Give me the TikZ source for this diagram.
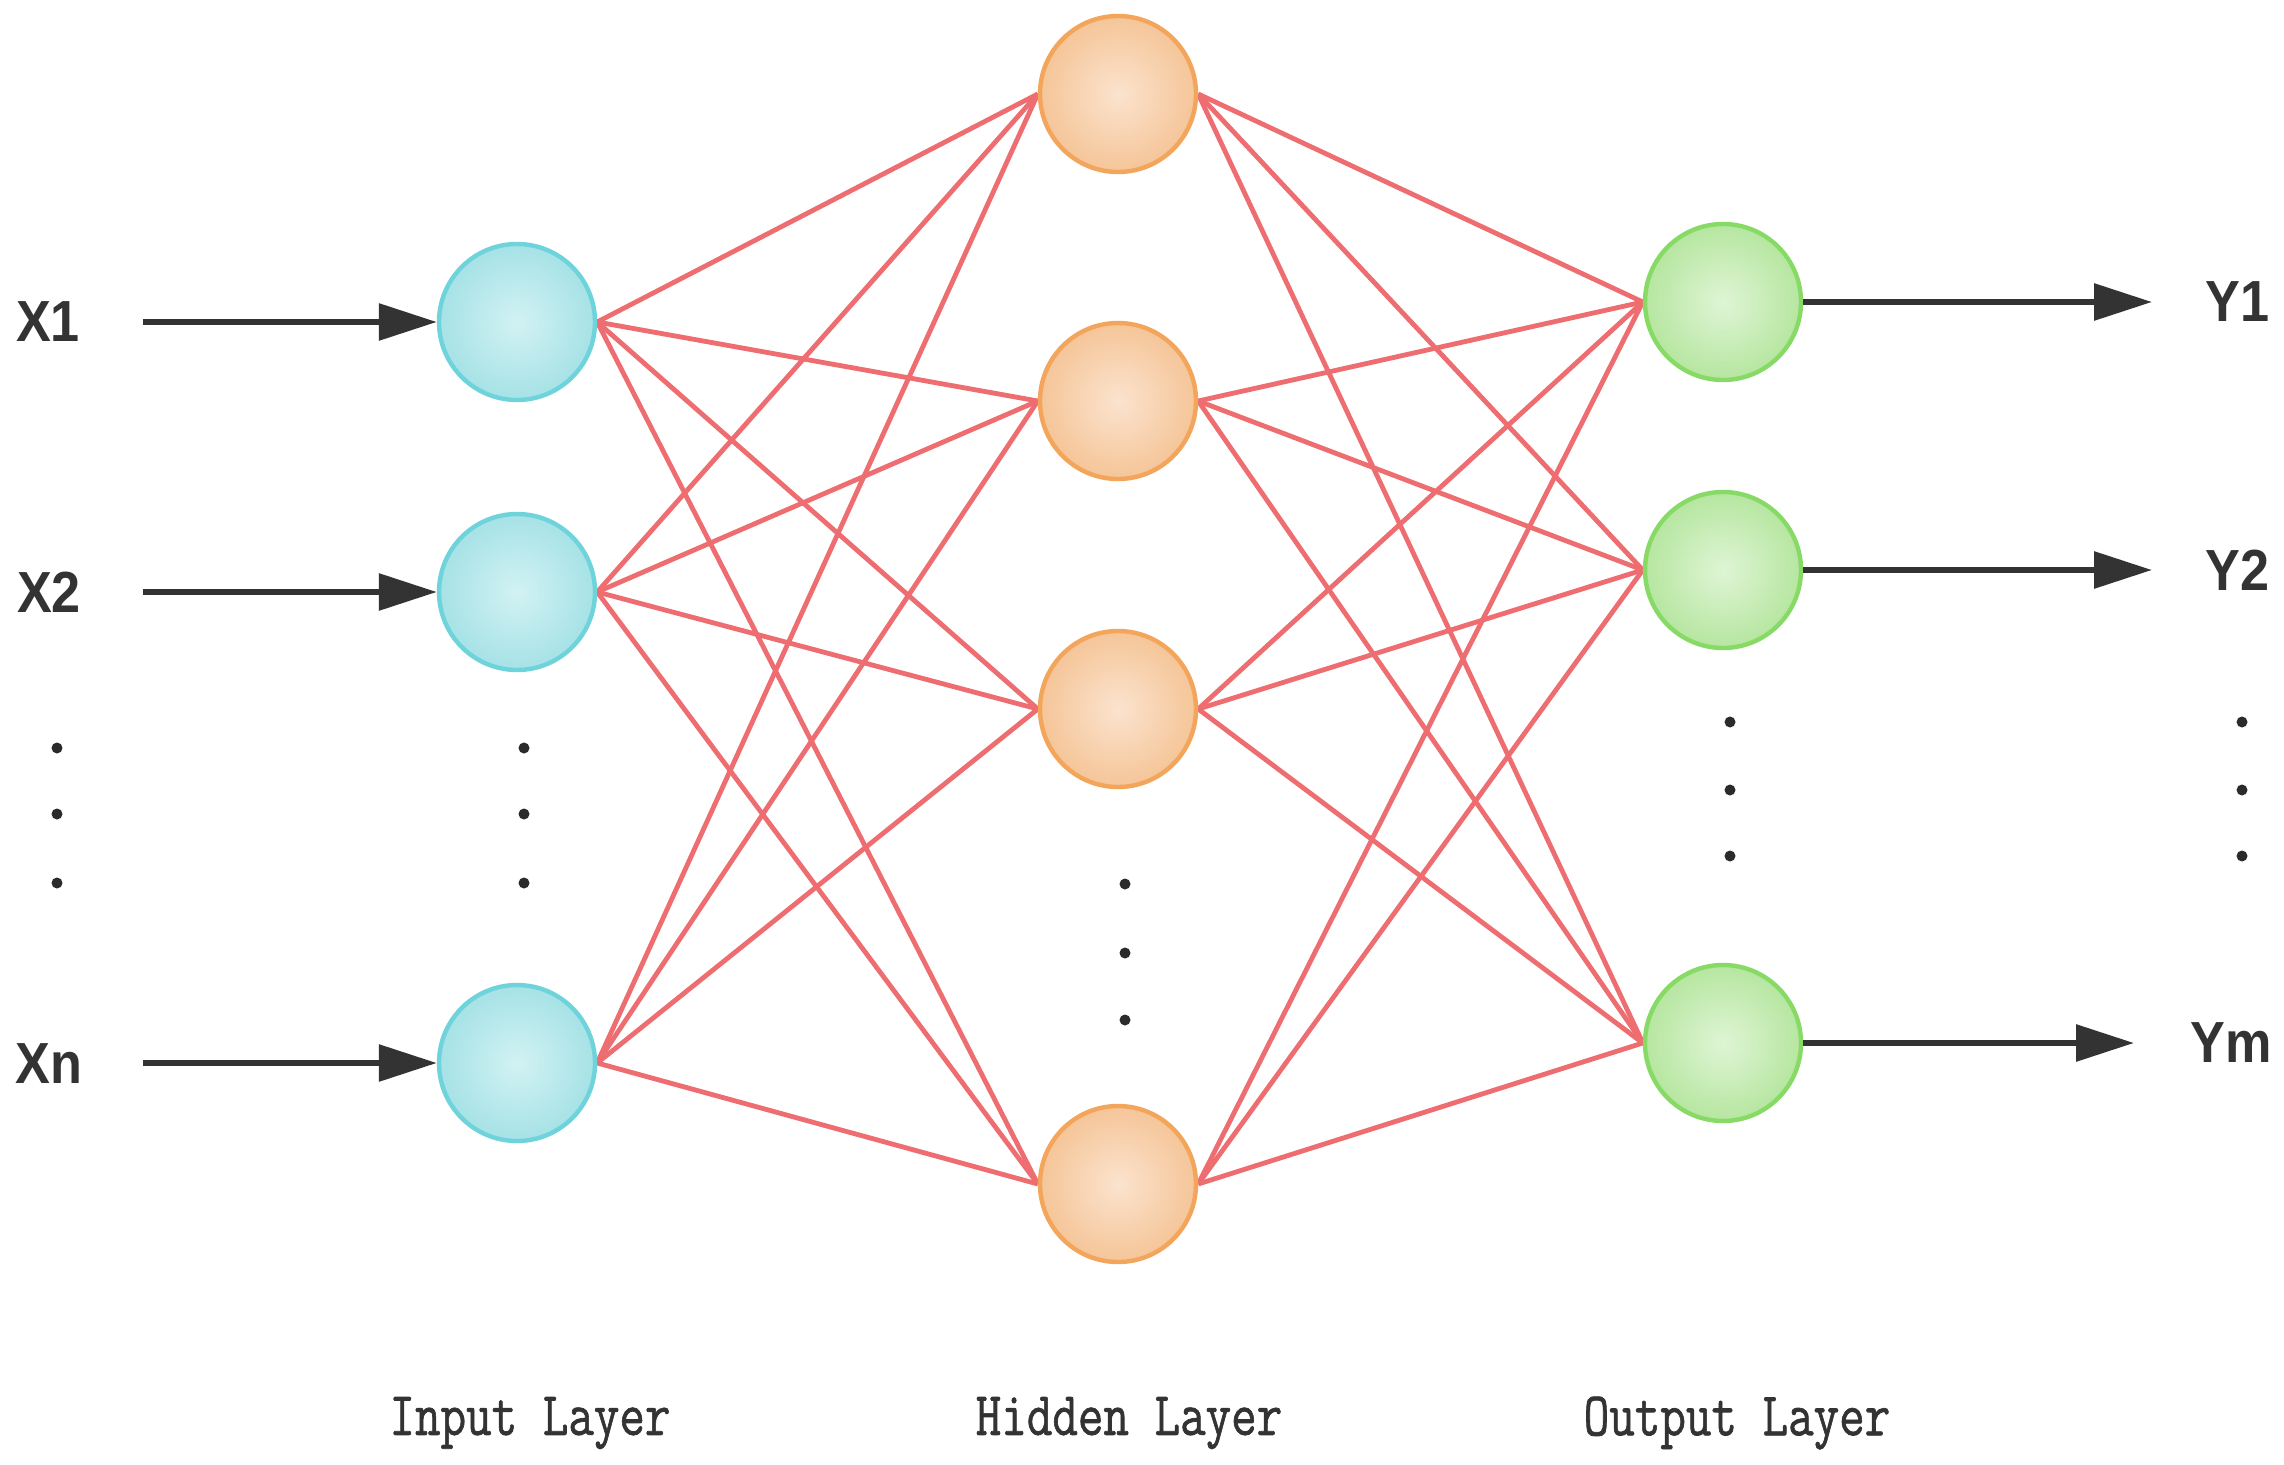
\documentclass[tikz,border=0pt]{standalone}
\usepackage{fontspec}
\usepackage{graphicx}
\setmainfont{Liberation Sans}
\newfontfamily\labmono[FakeBold=1.2]{Latin Modern Mono}
\usetikzlibrary{arrows.meta,backgrounds}
\definecolor{cyanB}{HTML}{6ED3DB}
\definecolor{cyanI}{HTML}{D2F2F3}
\definecolor{cyanO}{HTML}{A6E2E6}
\definecolor{orB}{HTML}{F3A55B}
\definecolor{orI}{HTML}{FBE3CE}
\definecolor{orO}{HTML}{F5C598}
\definecolor{grB}{HTML}{88DA66}
\definecolor{grI}{HTML}{DFF5D5}
\definecolor{grO}{HTML}{B6E6A0}
\definecolor{conn}{HTML}{EE6D70}
\definecolor{ink}{HTML}{333333}
\tikzset{
  neuron/.style={circle,minimum size=78pt,inner sep=0pt,line width=2.2pt},
  inneuron/.style={neuron,draw=cyanB,inner color=cyanI,outer color=cyanO},
  hidneuron/.style={neuron,draw=orB,inner color=orI,outer color=orO},
  outneuron/.style={neuron,draw=grB,inner color=grI,outer color=grO},
  link/.style={draw=conn,line width=2.4pt},
  flow/.style={draw=ink,line width=3pt,-{Triangle[length=29pt,width=18pt]}},
  varlab/.style={font=\fontsize{29}{29}\selectfont\bfseries,text=ink,inner sep=0pt},
  laylab/.style={font=\fontsize{31}{31}\selectfont\labmono,text=ink,inner sep=0pt},
  vdot/.style={circle,fill=ink!85!black,minimum size=5.5pt,inner sep=0pt}
}
\begin{document}
\begin{tikzpicture}[x=0.5pt,y=-0.5pt]
\useasboundingbox (0,0) rectangle (2284,1465);
% neurons
\node[inneuron] (i1) at (517,322) {};
\node[inneuron] (i2) at (517,592) {};
\node[inneuron] (i3) at (517,1063) {};
\node[hidneuron] (h1) at (1118,94) {};
\node[hidneuron] (h2) at (1118,401) {};
\node[hidneuron] (h3) at (1118,709) {};
\node[hidneuron] (h4) at (1118,1184) {};
\node[outneuron] (o1) at (1723,302) {};
\node[outneuron] (o2) at (1723,570) {};
\node[outneuron] (o3) at (1723,1043) {};
% connections
\begin{scope}[on background layer]
\fill[white] (0,0) rectangle (2284,1465);
\foreach \a in {i1,i2,i3}{
  \foreach \b in {h1,h2,h3,h4}{
    \draw[link] (\a.east) -- (\b.west);
  }
}
\foreach \a in {h1,h2,h3,h4}{
  \foreach \b in {o1,o2,o3}{
    \draw[link] (\a.east) -- (\b.west);
  }
}
\end{scope}
% inputs
\node[varlab] (x1) at (48,322) {\scalebox{0.9}[1]{X1}};
\node[varlab] (x2) at (49,592) {\scalebox{0.9}[1]{X2}};
\node[varlab] (xn) at (49,1064) {\scalebox{0.9}[1]{Xn}};
\coordinate (s1) at (143,322);
\coordinate (s2) at (143,592);
\coordinate (s3) at (143,1063);
\draw[flow] (s1) -- (i1.west);
\draw[flow] (s2) -- (i2.west);
\draw[flow] (s3) -- (i3.west);
% outputs
\coordinate (e1) at (2152,302);
\coordinate (e2) at (2152,570);
\coordinate (e3) at (2134,1043);
\draw[flow] (o1.east) -- (e1);
\draw[flow] (o2.east) -- (e2);
\draw[flow] (o3.east) -- (e3);
\node[varlab,anchor=east] (y1) at (2270,302) {\scalebox{0.9}[1]{Y1}};
\node[varlab,anchor=east] (y2) at (2270,570) {\scalebox{0.9}[1]{Y2}};
\node[varlab,anchor=east] (ym) at (2272,1043) {\scalebox{0.9}[1]{Ym}};
% dots
\foreach \y [count=\k] in {748,814,883}{
  \node[vdot] (dl\k) at (57,\y) {};
  \node[vdot] (di\k) at (524,\y) {};
}
\foreach \y [count=\k] in {884,953,1020}{
  \node[vdot] (dh\k) at (1125,\y) {};
}
\foreach \y [count=\k] in {722,790,856}{
  \node[vdot] (do\k) at (1730,\y) {};
  \node[vdot] (dr\k) at (2242,\y) {};
}
% layer labels
\node[laylab] (li) at (530,1423) {\scalebox{0.8}[1]{Input Layer}};
\node[laylab] (lh) at (1129,1423) {\scalebox{0.8}[1]{Hidden Layer}};
\node[laylab] (lo) at (1737,1423) {\scalebox{0.8}[1]{Output Layer}};
\end{tikzpicture}
\end{document}
